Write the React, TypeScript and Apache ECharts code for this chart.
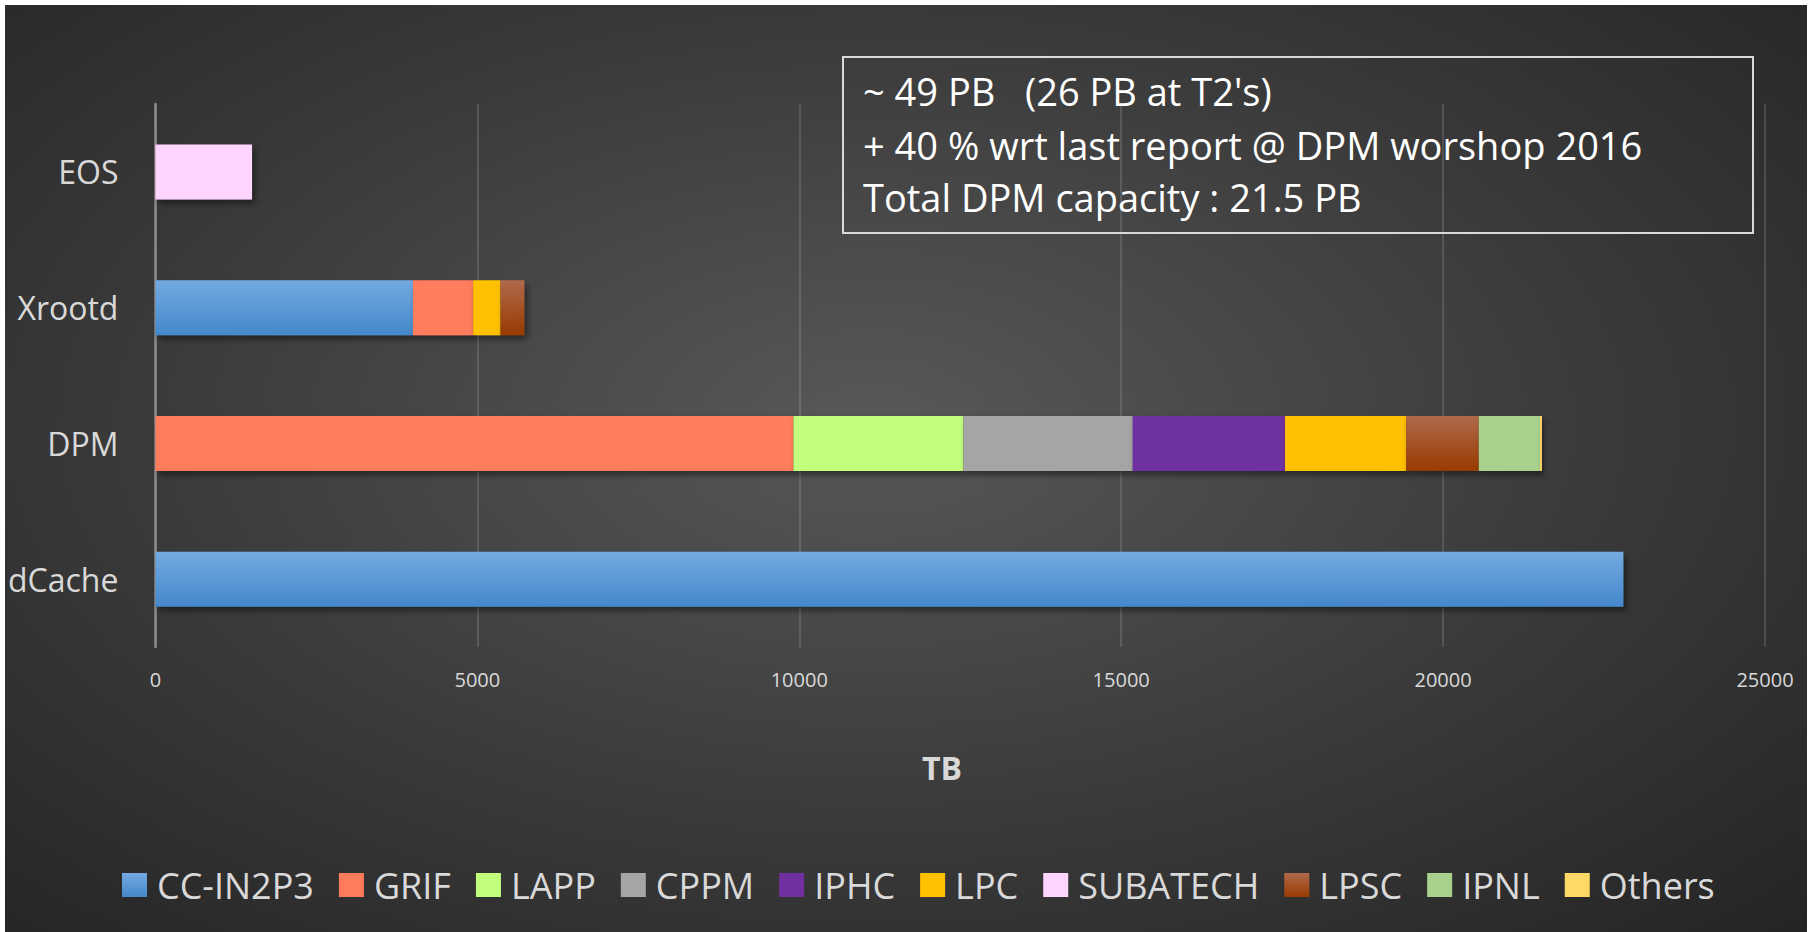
import React, { useEffect, useRef } from "react";
import * as echarts from "echarts";

const categories = ["dCache", "DPM", "Xrootd", "EOS"];
const seriesNames = ["CC-IN2P3", "GRIF", "LAPP", "CPPM", "IPHC", "LPC", "SUBATECH", "LPSC", "IPNL", "Others"];
const ccIn2p3 = [22800, null, 4000, null];
const grif = [null, 9910, 935, null];
const lapp = [null, 2640, null, null];
const cppm = [null, 2630, null, null];
const iphc = [null, 2365, null, null];
const lpc = [null, 1880, 425, null];
const subatech = [null, null, null, 1500];
const lpsc = [null, 1130, 370, null];
const ipnl = [null, 950, null, null];
const others = [null, 30, null, null];
const seriesValues = [ccIn2p3, grif, lapp, cppm, iphc, lpc, subatech, lpsc, ipnl, others];
const xTicks = { min: 0, max: 25000, interval: 5000 };
const noteLines = ["~ 49 PB   (26 PB at T2's)", "+ 40 % wrt last report @ DPM worshop 2016", "Total DPM capacity : 21.5 PB"];
const axisTitle = "TB";

const grad = (top: string, bottom: string) =>
  new echarts.graphic.LinearGradient(0, 0, 0, 1, [
    { offset: 0, color: top },
    { offset: 1, color: bottom },
  ]);

const colors: any[] = [
  grad("#74aae1", "#4488cb"),
  "#ff7b5c",
  "#c1ff7b",
  "#a5a5a5",
  "#7030a0",
  "#ffc000",
  "#ffd5ff",
  grad("#b06a4c", "#983b00"),
  "#a9d18e",
  "#ffd966",
];

const FONT = "'Open Sans', sans-serif";

export default function App() {
  const ref = useRef<HTMLDivElement>(null);
  useEffect(() => {
    document.body.style.margin = "0";
    const chart = echarts.init(ref.current!, null, { renderer: "svg" });
    chart.setOption({
      animation: false,
      backgroundColor: "transparent",
      textStyle: { fontFamily: FONT },
      grid: { left: 150, top: 99, width: 1610, height: 543, containLabel: false },
      legend: {
        data: seriesNames.map((n, i) => ({ name: n, itemStyle: { color: colors[i] } })),
        left: 112,
        top: 857,
        icon: "rect",
        itemWidth: 25,
        itemHeight: 24,
        itemGap: 25,
        textStyle: { color: "#d9d9d9", fontSize: 36, fontFamily: FONT, padding: [0, 0, 0, 5] },
      },
      xAxis: {
        type: "value",
        min: xTicks.min,
        max: xTicks.max,
        interval: xTicks.interval,
        axisLine: { show: false },
        axisTick: { show: false },
        splitLine: { show: true, lineStyle: { color: "rgba(217,217,217,0.22)", width: 1.5 } },
        axisLabel: { color: "#d9d9d9", fontSize: 20, margin: 22, fontFamily: FONT, formatter: (v: number) => String(v) },
      },
      yAxis: {
        type: "category",
        data: categories,
        axisLine: { show: true, lineStyle: { color: "#8c8c8c", width: 2.5 } },
        axisTick: { show: false },
        axisLabel: { color: "#d9d9d9", fontSize: 32, margin: 37, fontFamily: FONT },
      },
      series: seriesNames.map((name, i) => ({
        name,
        type: "bar",
        stack: "total",
        barWidth: 55,
        data: seriesValues[i],
        itemStyle: {
          color: colors[i],
          shadowColor: "rgba(0,0,0,0.45)",
          shadowBlur: 6,
          shadowOffsetX: 3,
          shadowOffsetY: 4,
        },
      })),
      graphic: [
        {
          type: "rect",
          shape: { x: 838, y: 52, width: 910, height: 176 },
          style: { fill: "transparent", stroke: "#d9d9d9", lineWidth: 2 },
        },
        ...noteLines.map((t, i) => ({
          type: "text",
          x: 858,
          y: [86, 140, 192][i],
          style: {
            text: t,
            fill: "#ffffff",
            fontSize: 38,
            fontFamily: FONT,
            verticalAlign: "middle",
            align: "left",
          },
        })),
        {
          type: "text",
          x: 937,
          y: 762,
          style: {
            text: axisTitle,
            fill: "#d9d9d9",
            fontSize: 32,
            fontWeight: "bold",
            fontFamily: FONT,
            align: "center",
            verticalAlign: "middle",
          },
        },
      ],
    });
    return () => chart.dispose();
  }, []);
  return (
    <div style={{ position: "absolute", left: 0, top: 0, width: 1810, height: 932, background: "#fff" }}>
      <div
        ref={ref}
        style={{
          position: "absolute",
          left: 5,
          top: 5,
          width: 1802,
          height: 927,
          background: "radial-gradient(ellipse at 48% 45%, #585858 0%, #3a3a3a 55%, #242424 100%)",
        }}
      />
    </div>
  );
}
